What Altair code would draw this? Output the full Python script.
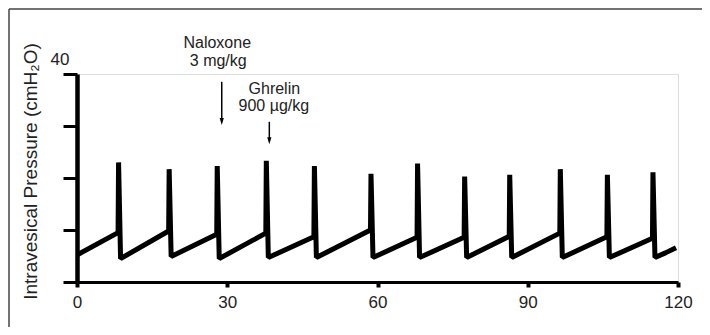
import altair as alt
import pandas as pd

# ---- data ----
start_t, start_p = 0.0, 5.2
peak_times = [8.2, 18.3, 27.9, 37.7, 47.3, 58.6, 67.9, 77.3, 86.3, 96.4, 105.8, 114.9]
pre_values = [9.5, 9.8, 9.2, 9.4, 8.7, 10.0, 8.6, 8.6, 8.8, 9.4, 8.7, 8.4]
peak_values = [23.0, 21.7, 22.3, 23.3, 22.3, 20.8, 22.8, 20.3, 20.6, 21.7, 20.6, 21.1]
trough_values = [4.5, 4.9, 4.5, 4.7, 4.7, 4.7, 4.7, 4.7, 4.7, 4.7, 4.7, 4.7]
end_t = [117.5, 119.6]
end_p = [5.6, 6.6]

ann_text = ["Naloxone", "3 mg/kg", "Ghrelin", "900 µg/kg"]
ann_t = [28.0, 28.2, 39.4, 39.3]
ann_p = [45.9, 42.5, 37.1, 33.9]

arrow_t = [28.9, 38.4]
arrow_top = [38.5, 30.8]
arrow_tip = [30.2, 26.5]

x_ticks = [0, 30, 60, 90, 120]
y_ticks = [0, 10, 20, 30, 40]

# ---- build trace table ----
tt, pp = [start_t], [start_p]
for t, pre, pk, tr in zip(peak_times, pre_values, peak_values, trough_values):
    tt += [t, t + 0.1, t + 0.5]
    pp += [pre, pk, tr]
tt += end_t
pp += end_p
trace = pd.DataFrame({"t": tt, "p": pp, "i": range(len(tt))})

ann = pd.DataFrame({"t": ann_t, "p": ann_p, "label": ann_text})
arrows = pd.DataFrame({"t": arrow_t, "p": arrow_top,
                       "p2": [v + 0.67 for v in arrow_tip]})
heads = pd.DataFrame({"t": arrow_t, "p": [v + 0.67 for v in arrow_tip]})

FONT = "Liberation Sans"

x_enc = alt.X("t:Q", scale=alt.Scale(domain=[0, 120], nice=False, zero=False),
              axis=alt.Axis(values=x_ticks, title=None, grid=False,
                            domainColor="black", domainWidth=3,
                            tickColor="black", tickWidth=4, tickSize=5,
                            labelFont=FONT, labelFontSize=17, labelColor="#222",
                            labelPadding=7, labelFlush=False))
y_enc = alt.Y("p:Q", scale=alt.Scale(domain=[0, 40], nice=False, zero=False),
              axis=alt.Axis(values=y_ticks, title="Intravesical Pressure (cmH₂O)",
                            grid=False, domainColor="black", domainWidth=4.5,
                            tickColor="black", tickWidth=3, tickSize=14,
                            labelExpr="datum.value == 40 ? '40' : ''",
                            labelFont=FONT, labelFontSize=17, labelColor="#222",
                            labelOffset=-15, labelPadding=-6, labelFlush=False,
                            titleFont=FONT, titleFontSize=19, titleFontWeight="normal",
                            titleColor="#222", titleX=-47, titleY=97,
                            titleAngle=-90, titleAlign="center", titleBaseline="middle"))

line = alt.Chart(trace).mark_line(color="black", strokeWidth=5, strokeJoin="bevel").encode(
    x=x_enc, y=y_enc, order="i:Q")

texts = alt.Chart(ann).mark_text(font=FONT, fontSize=16, color="#222",
                                 align="center", baseline="middle").encode(
    x=x_enc, y=y_enc, text="label:N")

arrow_lines = alt.Chart(arrows).mark_rule(color="black", strokeWidth=1.5).encode(
    x=x_enc, y=y_enc, y2="p2:Q")

arrow_heads = alt.Chart(heads).mark_point(
    shape="M-0.6,-1L0.6,-1L0,1Z", size=49, filled=True, color="black", opacity=1).encode(
    x=x_enc, y=y_enc)

frame_df = pd.DataFrame({"a": [0]})
frame_top = alt.Chart(frame_df).mark_rule(color="#444", strokeWidth=1.5).encode(
    x=alt.value(-68), x2=alt.value(640), y=alt.value(-65))
frame_left = alt.Chart(frame_df).mark_rule(color="#444", strokeWidth=1.5).encode(
    x=alt.value(-68), y=alt.value(-65), y2=alt.value(260))

chart = alt.layer(frame_top, frame_left, line, arrow_lines, arrow_heads, texts).properties(
    width=601, height=208,
    autosize=alt.AutoSizeParams(type="none"),
    padding={"left": 69, "top": 66, "right": 24, "bottom": 45},
).configure_view(stroke=None).configure(background="white")

chart.save("out.html", embed_options={"renderer": "svg", "actions": False})
